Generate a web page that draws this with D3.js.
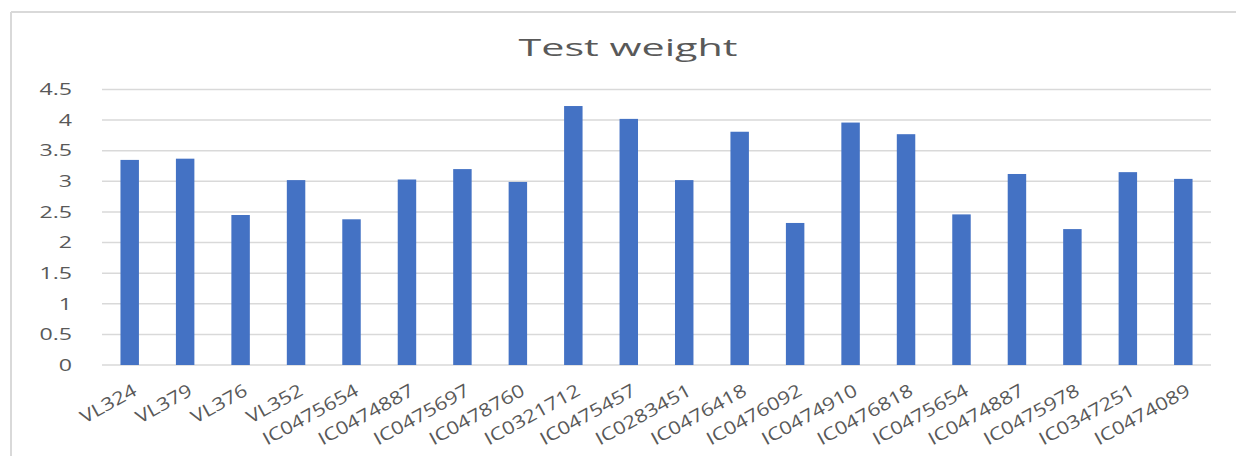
<!DOCTYPE html>
<html>
<head>
<meta charset="utf-8">
<script src="https://cdn.jsdelivr.net/npm/d3@7"></script>
<style>
  html, body { margin: 0; padding: 0; background: #ffffff; }
  svg { display: block; }
  text { font-family: "Open Sans", "Noto Sans", sans-serif; fill: #595959; }
</style>
</head>
<body>
<svg id="chart" width="1236" height="456"></svg>
<script>
// Test weight per accession
const categories = [
  "VL324", "VL379", "VL376", "VL352", "IC0475654", "IC0474887", "IC0475697",
  "IC0478760", "IC0321712", "IC0475457", "IC0283451", "IC0476418", "IC0476092",
  "IC0474910", "IC0476818", "IC0475654", "IC0474887", "IC0475978", "IC0347251",
  "IC0474089"
];
const testWeight = [
  3.35, 3.37, 2.45, 3.02, 2.38, 3.03, 3.20, 2.99, 4.23, 4.02,
  3.02, 3.81, 2.32, 3.96, 3.77, 2.46, 3.12, 2.22, 3.15, 3.04
];
const yTicks = [0, 0.5, 1, 1.5, 2, 2.5, 3, 3.5, 4, 4.5];
const chartTitle = "Test weight";

const svg = d3.select("#chart");
const W = 1236, H = 456;
const plot = { left: 102, right: 1211, top: 89.5, bottom: 365 };

// outer chart frame (only top and left edges fall inside the view)
svg.append("line").attr("x1", 11).attr("x2", W).attr("y1", 12).attr("y2", 12)
  .attr("stroke", "#d9d9d9").attr("stroke-width", 2);
svg.append("line").attr("x1", 11).attr("x2", 11).attr("y1", 12).attr("y2", H)
  .attr("stroke", "#d9d9d9").attr("stroke-width", 2);

// band indices keep the two repeated accession names on separate slots
const x = d3.scaleBand()
  .domain(d3.range(categories.length))
  .range([plot.left, plot.right])
  .paddingInner(0.667)
  .paddingOuter(0.333);

const y = d3.scaleLinear().domain([0, 4.5]).range([plot.bottom, plot.top]);

// gridlines
svg.append("g")
  .selectAll("line")
  .data(yTicks)
  .join("line")
  .attr("x1", plot.left).attr("x2", plot.right)
  .attr("y1", d => y(d)).attr("y2", d => y(d))
  .attr("stroke", "#d9d9d9").attr("stroke-width", 1.5);

// y tick labels
const fmt = d => String(d);
svg.append("g")
  .selectAll("text")
  .data(yTicks)
  .join("text")
  .attr("transform", d => `translate(72,${y(d)}) scale(1.45,1)`)
  .attr("text-anchor", "end")
  .attr("dy", "0.36em")
  .attr("font-size", 16)
  .text(fmt);

// bars
svg.append("g")
  .selectAll("rect")
  .data(testWeight)
  .join("rect")
  .attr("x", (d, i) => x(i))
  .attr("width", x.bandwidth())
  .attr("y", d => y(d))
  .attr("height", d => y(0) - y(d))
  .attr("fill", "#4472c4");

// rotated category labels
svg.append("g")
  .selectAll("text")
  .data(categories)
  .join("text")
  .attr("transform", (d, i) =>
    `translate(${x(i) + x.bandwidth() / 2 + 2},383) rotate(-29) scale(1.2,1)`)
  .attr("text-anchor", "end")
  .attr("dy", "0.72em")
  .attr("font-size", 18)
  .text(d => d);

// title
svg.append("text")
  .attr("x", 628).attr("y", 56)
  .attr("text-anchor", "middle")
  .attr("font-size", 24)
  .attr("textLength", 219)
  .attr("lengthAdjust", "spacingAndGlyphs")
  .text(chartTitle);
</script>
</body>
</html>
